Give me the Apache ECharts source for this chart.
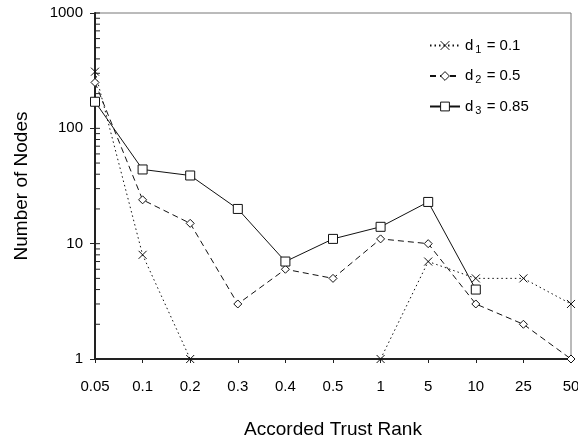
<!DOCTYPE html>
<html><head><meta charset="utf-8">
<script src="https://cdn.jsdelivr.net/npm/echarts@6/dist/echarts.min.js"></script>
<style>html,body{margin:0;padding:0;background:#fff}#c{width:578px;height:438px}</style>
</head><body><div id="c"></div>
<script>
const categories = ['0.05','0.1','0.2','0.3','0.4','0.5','1','5','10','25','50'];
const d1 = [310, 8, 1, null, null, null, 1, 7, 5, 5, 3];
const d2 = [250, 24, 15, 3, 6, 5, 11, 10, 3, 2, 1];
const d3 = [170, 44, 39, 20, 7, 11, 14, 23, 4, null, null];
const seriesNames = ['d1', 'd2', 'd3'];
const seriesSubs = ['1', '2', '3'];
const seriesParams = ['0.1', '0.5', '0.85'];
const innerTickValues = [1, 2, 3, 4, 5, 6, 7, 8, 9, 10, 20, 30, 40, 50, 60, 70, 80, 90, 100, 200, 300, 400, 500, 600, 700, 800, 900, 1000];
const xTitle = 'Accorded Trust Rank';
const yTitle = 'Number of Nodes';

const FONT = 'Liberation Sans, Arial, sans-serif';
const chart = echarts.init(document.getElementById('c'), null, {renderer: 'canvas'});

const crossPath = 'path://M0,0L10,10M10,0L0,10';
const lineStyles = [
  {type: [1.5, 3], width: 1},
  {type: [6, 4], width: 1},
  {type: 'solid', width: 1}
];
const symbols = [crossPath, 'diamond', 'rect'];
const symbolSizes = [8, 8, 9];
const dataSets = [d1, d2, d3];

const series = dataSets.map((d, i) => ({
  name: seriesNames[i],
  type: 'line',
  data: d,
  connectNulls: false,
  symbol: symbols[i],
  symbolSize: symbolSizes[i],
  showSymbol: true,
  lineStyle: Object.assign({color: '#111'}, lineStyles[i]),
  itemStyle: {color: i === 0 ? '#111' : '#fff', borderColor: '#111', borderWidth: 1},
  emphasis: {disabled: true},
  animation: false,
  z: 3
}));

series.push({
  type: 'custom',
  name: 'ticks',
  silent: true,
  animation: false,
  data: innerTickValues.map(v => [0, v]),
  encode: {x: 0, y: 1},
  renderItem: function (params, api) {
    const p = api.coord([0, api.value(1)]);
    return {
      type: 'line',
      shape: {x1: p[0], y1: p[1], x2: p[0] + 5, y2: p[1]},
      style: {stroke: '#222', lineWidth: 1}
    };
  },
  z: 4
});

chart.setOption({
  animation: false,
  backgroundColor: '#fff',
  grid: {left: 95, right: 7, top: 13, bottom: 79, show: true, borderColor: '#777', borderWidth: 1,
         containLabel: false, outerBoundsMode: 'none'},
  legend: {
    data: seriesNames,
    orient: 'vertical',
    left: 424,
    top: 33,
    itemWidth: 30,
    itemHeight: 11,
    itemGap: 13.5,
    itemStyle: {borderWidth: 1},
    formatter: function (name) {
      const i = seriesNames.indexOf(name);
      return '{n|d}{s|' + seriesSubs[i] + '}{n| = ' + seriesParams[i] + '}';
    },
    textStyle: {
      fontFamily: FONT,
      color: '#000',
      rich: {
        n: {fontSize: 15, fontFamily: FONT, color: '#000'},
        s: {fontSize: 11, fontFamily: FONT, color: '#000', padding: [8, 1, 0, 2]}
      }
    }
  },
  xAxis: {
    type: 'category',
    data: categories,
    boundaryGap: false,
    name: xTitle,
    nameLocation: 'middle',
    nameGap: 61,
    nameTextStyle: {fontFamily: FONT, fontSize: 19, color: '#000'},
    axisLine: {lineStyle: {color: '#222', width: 2}},
    axisTick: {show: true, length: 4, lineStyle: {color: '#222'}},
    axisLabel: {fontFamily: FONT, fontSize: 15, color: '#000', margin: 20, interval: 0},
    splitLine: {show: false}
  },
  yAxis: {
    type: 'log',
    logBase: 10,
    min: 1,
    max: 1000,
    name: yTitle,
    nameLocation: 'middle',
    nameGap: 64,
    nameTextStyle: {fontFamily: FONT, fontSize: 19, color: '#000'},
    axisLine: {show: true, lineStyle: {color: '#222', width: 2}},
    axisTick: {show: true, length: 5, lineStyle: {color: '#222'}},
    axisLabel: {fontFamily: FONT, fontSize: 15, color: '#000', margin: 12, formatter: v => String(v)},
    splitLine: {show: false},
    minorTick: {show: false}
  },
  series: series
});
</script>
</body></html>
